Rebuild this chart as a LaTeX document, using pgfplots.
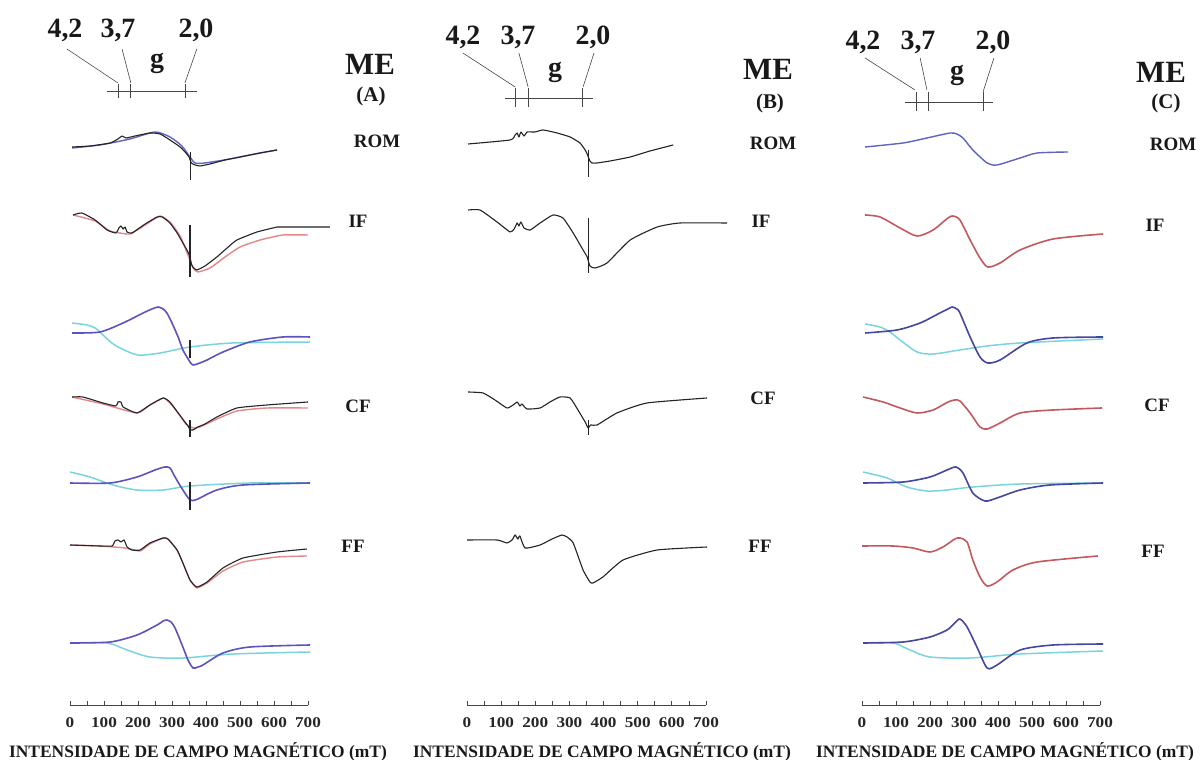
\documentclass[border=0pt]{standalone}
\usepackage{pgfplots}
\pgfplotsset{compat=1.18}
\usepackage{fontspec}
\setmainfont{Liberation Serif}

\definecolor{trblack}{RGB}{35,35,40}
\definecolor{trgray}{RGB}{110,110,110}
\definecolor{trpurple}{RGB}{92,84,188}
\definecolor{trnavy}{RGB}{68,70,160}
\definecolor{trblue}{RGB}{95,100,190}
\definecolor{trcyan}{RGB}{120,212,222}
\definecolor{trpink}{RGB}{228,135,135}
\definecolor{trred}{RGB}{196,88,95}
\definecolor{axgray}{RGB}{70,70,70}

\tikzset{gscale/.style={axgray, line width=0.8bp}}
\pgfplotsset{
  panel/.style={
    scale only axis, height=705bp,
    xmin=0, xmax=700, ymin=-705, ymax=0,
    axis x line=bottom, axis y line=none,
    axis line style={axgray, line width=0.9bp, -},
    xtick={0,100,...,700}, minor xtick={50,150,...,650},
    tick align=inside, major tick length=4bp, minor tick length=4bp,
    every tick/.style={axgray, line width=0.8bp},
    /pgf/number format/assume math mode=true,
    xticklabel style={font=\fontsize{15}{15}\selectfont\bfseries, text=black!85,
      anchor=base, yshift=-22bp, xscale=1.15},
    clip=false, anchor=south west,
  },
  blk/.style={no marks, trblack, line width=1.1bp, line join=round, smooth, tension=0.3},
  spk/.style={no marks, trblack, line width=1.1bp},
  pnk/.style={no marks, trpink, line width=1.4bp, line join=round, smooth, tension=0.3},
  rdl/.style={no marks, trred, line width=1.6bp, line join=round, smooth, tension=0.45},
  blu/.style={no marks, trblue, line width=1.4bp, line join=round, smooth, tension=0.4},
  pur/.style={no marks, trpurple, line width=1.6bp, line join=round, smooth, tension=0.45},
  nav/.style={no marks, trnavy, line width=1.6bp, line join=round, smooth, tension=0.45},
  cya/.style={no marks, trcyan, line width=1.5bp, line join=round, smooth, tension=0.45},
}

\begin{document}
\begin{tikzpicture}
\path[use as bounding box, fill=white] (0,0) rectangle (1201bp,760bp);

% ---------------- ME (A) ----------------
\begin{axis}[panel, width=238bp, at={(70bp,55bp)}]
% g scale
\draw[gscale] (axis cs:109,-91) -- (axis cs:373,-91);
\draw[gscale] (axis cs:141,-84) -- (axis cs:141,-98);
\draw[gscale] (axis cs:179,-84) -- (axis cs:179,-98);
\draw[gscale] (axis cs:338,-84) -- (axis cs:338,-98);
\draw[gscale, line width=0.6bp] (axis cs:-9,-49) -- (axis cs:141,-83);
\draw[gscale, line width=0.6bp] (axis cs:153,-49) -- (axis cs:179,-83);
\draw[gscale, line width=0.6bp] (axis cs:373,-49) -- (axis cs:338,-83);
% ROM
\addplot[blu] coordinates {(6,-148)(88,-145)(176,-139)(250,-132)(294,-137)(329,-146)(353,-157)(368,-163)(397,-163)(470,-159)(559,-153)(609,-150)};
\addplot[blk] coordinates {(6,-147)(59,-146)(118,-143)(141,-139)(153,-136)(165,-138)(191,-136)(235,-133)(265,-134)(294,-140)(324,-147)(341,-153)(350,-157)(357,-163)(368,-165)(382,-166)(412,-164)(456,-160)(500,-157)(559,-153)(609,-150)};
\addplot[spk] coordinates {(355,-152)(355,-180)};
% IF
\addplot[pnk] coordinates {(9,-215)(74,-221)(118,-231)(176,-234)(221,-225)(265,-216)(294,-222)(324,-236)(347,-255)(362,-268)(376,-272)(412,-268)(456,-257)(500,-247)(559,-240)(626,-235)(700,-235)};
\addplot[blk] coordinates {(9,-215)(35,-213)(74,-220)(109,-230)(135,-233)(144,-228)(150,-226)(156,-229)(162,-227)(168,-232)(182,-233)(221,-224)(256,-217)(271,-217)(294,-223)(315,-233)(332,-243)(344,-250)(352,-256)(358,-265)(364,-268)(373,-270)(397,-266)(432,-257)(462,-248)(491,-240)(550,-232)(609,-227)};
\addplot[spk] coordinates {(353,-225)(353,-277)};
\addplot[no marks, trgray, line width=1.1bp] coordinates {(609,-227)(765,-227)};
% fitted components
\addplot[cya] coordinates {(6,-323)(50,-325)(74,-328)(97,-335)(123,-343)(147,-348)(200,-355)(265,-353)(353,-347)(479,-343)(706,-342)};
\addplot[pur] coordinates {(6,-333)(88,-332)(156,-323)(215,-313)(241,-309)(259,-307)(274,-309)(285,-313)(300,-323)(318,-337)(332,-350)(344,-357)(353,-362)(362,-365)(382,-363)(403,-360)(450,-352)(529,-342)(626,-337)(706,-337)};
\addplot[spk] coordinates {(353,-340)(353,-358)};
% CF
\addplot[pnk] coordinates {(6,-397)(97,-404)(197,-413)(235,-405)(274,-398)(294,-403)(318,-413)(341,-424)(362,-428)(382,-427)(432,-419)(491,-411)(579,-408)(700,-408)};
\addplot[blk] coordinates {(6,-397)(38,-397)(97,-403)(135,-406)(141,-402)(150,-402)(156,-407)(197,-413)(235,-405)(274,-398)(294,-402)(318,-413)(338,-422)(347,-426)(354,-430)(362,-430)(376,-427)(397,-424)(432,-417)(491,-408)(579,-405)(700,-402)};
\addplot[spk] coordinates {(353,-420)(353,-437)};
% fitted components
\addplot[cya] coordinates {(0,-472)(59,-477)(126,-485)(197,-490)(274,-490)(353,-486)(529,-483)(706,-483)};
\addplot[pur] coordinates {(0,-483)(118,-483)(197,-477)(250,-470)(279,-467)(294,-468)(309,-477)(332,-490)(353,-500)(368,-500)(382,-498)(432,-490)(509,-485)(706,-483)};
\addplot[spk] coordinates {(353,-482)(353,-510)};
% FF
\addplot[pnk] coordinates {(0,-545)(88,-546)(162,-548)(206,-551)(235,-544)(274,-538)(288,-539)(315,-550)(332,-563)(353,-580)(373,-588)(403,-583)(450,-571)(509,-562)(609,-557)(697,-556)};
\addplot[blk] coordinates {(0,-545)(88,-546)(124,-546)(132,-541)(141,-540)(150,-542)(159,-540)(168,-547)(182,-550)(206,-550)(235,-543)(274,-538)(288,-539)(315,-550)(332,-563)(353,-580)(373,-587)(403,-582)(450,-568)(509,-558)(609,-552)(697,-549)};
% fitted components
\addplot[cya] coordinates {(0,-643)(109,-643)(168,-650)(235,-657)(332,-658)(479,-654)(706,-652)};
\addplot[pur] coordinates {(0,-643)(118,-642)(197,-635)(256,-625)(274,-621)(285,-620)(297,-622)(309,-628)(332,-647)(347,-660)(362,-668)(376,-667)(391,-665)(450,-653)(529,-647)(706,-645)};
\end{axis}

% ---------------- ME (B) ----------------
\begin{axis}[panel, width=239bp, at={(467bp,55bp)}]
\draw[gscale] (axis cs:111,-98) -- (axis cs:369,-98);
\draw[gscale] (axis cs:141,-88) -- (axis cs:141,-107);
\draw[gscale] (axis cs:179,-88) -- (axis cs:179,-107);
\draw[gscale] (axis cs:337,-88) -- (axis cs:337,-107);
\draw[gscale, line width=0.6bp] (axis cs:-12,-53) -- (axis cs:141,-87);
\draw[gscale, line width=0.6bp] (axis cs:152,-53) -- (axis cs:179,-87);
\draw[gscale, line width=0.6bp] (axis cs:372,-53) -- (axis cs:340,-87);
% ROM
\addplot[blk] coordinates {(3,-144)(126,-140)(141,-135)(147,-133)(152,-137)(158,-132)(167,-136)(176,-132)(199,-132)(223,-130)(264,-133)(302,-137)(331,-143)(346,-150)(352,-154)(360,-161)(366,-163)(381,-163)(419,-161)(478,-157)(536,-151)(604,-145)};
\addplot[spk] coordinates {(355,-150)(355,-177)};
% IF
\addplot[blk] coordinates {(3,-210)(38,-210)(88,-222)(126,-232)(138,-229)(147,-223)(152,-226)(158,-222)(167,-228)(185,-230)(214,-223)(252,-215)(281,-218)(311,-233)(340,-250)(352,-257)(360,-266)(375,-268)(410,-263)(478,-240)(557,-227)(624,-223)(762,-223)};
\addplot[spk] coordinates {(357,-218)(357,-273)};
% CF
\addplot[blk] coordinates {(3,-392)(47,-393)(82,-400)(117,-408)(135,-405)(147,-402)(155,-406)(161,-404)(176,-409)(214,-408)(243,-402)(272,-397)(302,-398)(325,-410)(346,-422)(355,-428)(362,-425)(381,-425)(439,-413)(527,-403)(703,-398)};
\addplot[spk] coordinates {(355,-420)(355,-435)};
% FF
\addplot[blk] coordinates {(0,-540)(88,-540)(117,-543)(132,-540)(141,-535)(149,-539)(155,-536)(170,-548)(214,-545)(249,-539)(278,-535)(293,-537)(311,-543)(340,-570)(360,-582)(369,-583)(398,-577)(457,-560)(557,-550)(703,-547)};
\end{axis}

% ---------------- ME (C) ----------------
\begin{axis}[panel, width=238bp, at={(862bp,55bp)}]
\draw[gscale] (axis cs:126,-102) -- (axis cs:385,-102);
\draw[gscale] (axis cs:159,-92) -- (axis cs:159,-111);
\draw[gscale] (axis cs:194,-92) -- (axis cs:194,-111);
\draw[gscale] (axis cs:356,-92) -- (axis cs:356,-111);
\draw[gscale, line width=0.6bp] (axis cs:9,-58) -- (axis cs:156,-90);
\draw[gscale, line width=0.6bp] (axis cs:171,-58) -- (axis cs:191,-90);
\draw[gscale, line width=0.6bp] (axis cs:388,-58) -- (axis cs:356,-92);
% ROM
\addplot[blu] coordinates {(9,-147)(121,-143)(191,-138)(259,-133)(279,-134)(297,-138)(326,-150)(368,-163)(397,-165)(465,-158)(515,-153)(606,-152)};
% IF
\addplot[rdl] coordinates {(9,-215)(53,-217)(112,-228)(162,-236)(209,-230)(253,-218)(268,-216)(288,-220)(318,-240)(347,-258)(370,-267)(406,-263)(465,-250)(562,-239)(709,-234)};
% fitted components
\addplot[cya] coordinates {(9,-324)(53,-327)(82,-332)(112,-340)(162,-352)(209,-354)(288,-350)(368,-346)(465,-343)(709,-339)};
\addplot[nav] coordinates {(9,-333)(103,-330)(171,-323)(229,-313)(253,-309)(265,-307)(279,-309)(288,-313)(318,-337)(347,-357)(370,-363)(406,-360)(485,-343)(562,-338)(709,-337)};
% CF
\addplot[rdl] coordinates {(3,-397)(62,-402)(112,-408)(162,-413)(209,-410)(253,-402)(273,-400)(288,-401)(318,-413)(347,-427)(368,-429)(406,-423)(465,-413)(562,-410)(706,-408)};
% fitted components
\addplot[cya] coordinates {(3,-472)(74,-478)(132,-487)(191,-491)(250,-490)(326,-487)(465,-484)(709,-483)};
\addplot[nav] coordinates {(3,-483)(121,-482)(200,-477)(250,-470)(276,-467)(297,-473)(326,-493)(362,-501)(397,-498)(465,-490)(553,-485)(709,-483)};
% FF
\addplot[rdl] coordinates {(0,-546)(91,-546)(150,-548)(200,-552)(238,-547)(273,-539)(288,-538)(309,-542)(326,-560)(347,-577)(368,-586)(397,-582)(444,-570)(515,-562)(694,-556)};
% fitted components
\addplot[cya] coordinates {(3,-643)(91,-643)(141,-650)(200,-657)(318,-658)(465,-654)(709,-651)};
\addplot[nav] coordinates {(3,-643)(121,-642)(200,-637)(250,-630)(273,-623)(288,-619)(309,-627)(338,-647)(368,-668)(397,-665)(465,-650)(562,-645)(709,-644)};
\end{axis}

% ---------------- labels ----------------
\begin{scope}[every node/.style={anchor=base, inner sep=0pt, text=black!90}]
\def\gfont{\fontsize{28}{28}\selectfont\bfseries}
\def\mefont{\fontsize{31}{31}\selectfont\bfseries}
\def\pfont{\fontsize{21}{21}\selectfont\bfseries}
\def\sfont{\fontsize{19}{19}\selectfont\bfseries}
\def\xfont{\fontsize{17.5}{17.5}\selectfont\bfseries}
% g values
\node[font=\gfont] at (65bp,722bp) {4,2};
\node[font=\gfont] at (118bp,722bp) {3,7};
\node[font=\gfont] at (196bp,722bp) {2,0};
\node[font=\gfont] at (157bp,692bp) {g};
\node[font=\gfont] at (463bp,715bp) {4,2};
\node[font=\gfont] at (518bp,715bp) {3,7};
\node[font=\gfont] at (593bp,715bp) {2,0};
\node[font=\gfont] at (555bp,683bp) {g};
\node[font=\gfont] at (863bp,710bp) {4,2};
\node[font=\gfont] at (918bp,710bp) {3,7};
\node[font=\gfont] at (993bp,710bp) {2,0};
\node[font=\gfont] at (957bp,680bp) {g};
% panel titles
\node[font=\mefont] at (370bp,685bp) {ME};
\node[font=\pfont] at (371bp,658bp) {(A)};
\node[font=\mefont] at (768bp,680bp) {ME};
\node[font=\pfont] at (770bp,651bp) {(B)};
\node[font=\mefont] at (1161bp,677bp) {ME};
\node[font=\pfont] at (1166bp,651bp) {(C)};
% sample labels
\node[font=\sfont] at (377bp,612bp) {ROM};
\node[font=\sfont] at (358bp,532bp) {IF};
\node[font=\sfont] at (358bp,347bp) {CF};
\node[font=\sfont] at (353bp,207bp) {FF};
\node[font=\sfont] at (773bp,610bp) {ROM};
\node[font=\sfont] at (761bp,532bp) {IF};
\node[font=\sfont] at (763bp,355bp) {CF};
\node[font=\sfont] at (760bp,207bp) {FF};
\node[font=\sfont] at (1173bp,609bp) {ROM};
\node[font=\sfont] at (1155bp,528bp) {IF};
\node[font=\sfont] at (1157bp,348bp) {CF};
\node[font=\sfont] at (1153bp,202bp) {FF};
% field axis titles
\node[font=\xfont] at (198bp,3bp) {INTENSIDADE DE CAMPO MAGNÉTICO (mT)};
\node[font=\xfont] at (602bp,3bp) {INTENSIDADE DE CAMPO MAGNÉTICO (mT)};
\node[font=\xfont] at (1005bp,3bp) {INTENSIDADE DE CAMPO MAGNÉTICO (mT)};
\end{scope}
\end{tikzpicture}
\end{document}
